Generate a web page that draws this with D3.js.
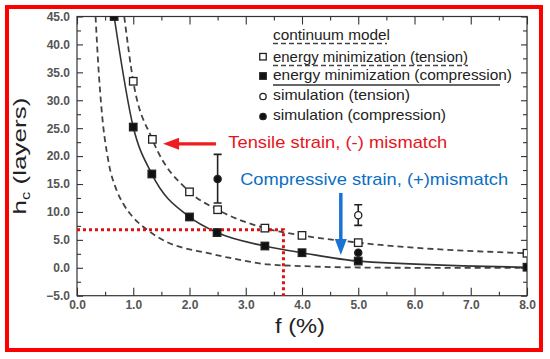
<!DOCTYPE html>
<html>
<head>
<meta charset="utf-8">
<script src="https://cdn.jsdelivr.net/npm/d3@7"></script>
<style>
  body { margin: 0; background: #fff; }
  text { font-family: "Liberation Sans", Arial, sans-serif; }
</style>
</head>
<body>
<script>
// valori (f in %, h in layers)
const continuumF = [0.33, 0.38, 0.44, 0.56, 0.7, 0.82, 1.0, 1.25, 1.6, 2.0, 2.2, 2.7, 3.4, 4.0, 5.0, 6.0, 8.0];
const continuumH = [45, 36, 28, 19, 14, 11.5, 9.0, 6.8, 4.6, 3.3, 2.9, 1.8, 0.6, 0.3, 0.05, 0, 0];

const tensionF = [0.84, 1.0, 1.34, 2.0, 2.5, 3.34, 4.0, 5.0, 8.0];
const tensionH = [45, 33.4, 23.0, 13.6, 10.4, 7.1, 5.8, 4.5, 2.6];

const compressionF = [0.66, 1.0, 1.33, 2.0, 2.49, 3.34, 4.0, 5.0, 8.0];
const compressionH = [45, 25.2, 16.8, 9.1, 6.3, 3.9, 2.7, 1.2, 0.1];

const simTensionF = [5.0];
const simTensionH = [9.4];
const simTensionLo = [7.6];
const simTensionHi = [11.3];

const simCompF = [2.5, 5.0];
const simCompH = [15.9, 2.7];
const simCompLo = [11.6, null];
const simCompHi = [20.3, null];

const legendLabels = ["continuum model", "energy minimization (tension)", "energy minimization (compression)",
  "simulation (tension)", "simulation (compression)"];

const xTicks = [0, 1, 2, 3, 4, 5, 6, 7, 8];
const yTicks = [-5, 0, 5, 10, 15, 20, 25, 30, 35, 40, 45];

// linee rosse tratteggiate
const guideH = 6.8;
const guideF = 3.67;

const W = 550, H = 359;

var svg = d3.select("body")
  .append("svg")
  .attr("width", W)
  .attr("height", H);

svg.append("rect")
  .attr("x", 0).attr("y", 0).attr("width", W).attr("height", H)
  .attr("fill", "#fff");

// bordo rosso
svg.append("rect")
  .attr("x", 7).attr("y", 7).attr("width", 534).attr("height", 343)
  .attr("fill", "none")
  .attr("stroke", "#ff0000")
  .attr("stroke-width", 4);

const pLeft = 77, pRight = 527, pTop = 16.5, pBottom = 295.7;

const x = d3.scaleLinear().domain([0, 8]).range([pLeft, pRight]);
const y = d3.scaleLinear().domain([-5, 45]).range([pBottom, pTop]);

svg.append("clipPath").attr("id", "plotclip")
  .append("rect")
  .attr("x", pLeft).attr("y", pTop)
  .attr("width", pRight - pLeft).attr("height", pBottom - pTop);

// assi
function styleAxis(g) {
  g.select(".domain").remove();
  g.selectAll("line").attr("stroke", "#333").attr("stroke-width", 1.1);
  g.selectAll("text")
    .attr("fill", "#555")
    .attr("font-weight", "bold")
    .attr("font-size", 12);
}

svg.append("g")
  .attr("transform", "translate(0," + pBottom + ")")
  .call(d3.axisBottom(x).tickValues(xTicks).tickSize(-8).tickPadding(5).tickFormat(d3.format(".1f")))
  .call(styleAxis);

svg.append("g")
  .attr("transform", "translate(0," + pBottom + ")")
  .call(d3.axisBottom(x).tickValues(d3.range(0.5, 8, 1)).tickSize(-4).tickFormat(""))
  .call(styleAxis);

svg.append("g")
  .attr("transform", "translate(0," + pTop + ")")
  .call(d3.axisTop(x).tickValues(xTicks).tickSize(-8).tickFormat(""))
  .call(styleAxis);

svg.append("g")
  .attr("transform", "translate(0," + pTop + ")")
  .call(d3.axisTop(x).tickValues(d3.range(0.5, 8, 1)).tickSize(-4).tickFormat(""))
  .call(styleAxis);

svg.append("g")
  .attr("transform", "translate(" + pLeft + ",0)")
  .call(d3.axisLeft(y).tickValues(yTicks).tickSize(-6).tickPadding(7).tickFormat(d3.format(".1f")))
  .call(styleAxis);

svg.append("g")
  .attr("transform", "translate(" + pLeft + ",0)")
  .call(d3.axisLeft(y).tickValues(d3.range(-2.5, 45, 5)).tickSize(-4).tickFormat(""))
  .call(styleAxis);

svg.append("g")
  .attr("transform", "translate(" + pRight + ",0)")
  .call(d3.axisRight(y).tickValues(yTicks).tickSize(-6).tickFormat(""))
  .call(styleAxis);

svg.append("g")
  .attr("transform", "translate(" + pRight + ",0)")
  .call(d3.axisRight(y).tickValues(d3.range(-2.5, 45, 5)).tickSize(-4).tickFormat(""))
  .call(styleAxis);

svg.append("rect")
  .attr("x", pLeft).attr("y", pTop)
  .attr("width", pRight - pLeft).attr("height", pBottom - pTop)
  .attr("fill", "none")
  .attr("stroke", "#333")
  .attr("stroke-width", 1.2);

// curve
var plot = svg.append("g").attr("clip-path", "url(#plotclip)");

function zip(fs, hs) {
  return fs.map((f, i) => [f, hs[i]]);
}

var line = d3.line()
  .x(d => x(d[0]))
  .y(d => y(d[1]))
  .curve(d3.curveMonotoneX);

plot.append("path")
  .attr("d", line(zip(continuumF, continuumH)))
  .attr("fill", "none").attr("stroke", "#444")
  .attr("stroke-width", 1.8).attr("stroke-dasharray", "6,4");

plot.append("path")
  .attr("d", line(zip(tensionF, tensionH)))
  .attr("fill", "none").attr("stroke", "#444")
  .attr("stroke-width", 1.8).attr("stroke-dasharray", "6,4");

plot.append("path")
  .attr("d", line(zip(compressionF, compressionH)))
  .attr("fill", "none").attr("stroke", "#333")
  .attr("stroke-width", 1.6);

// linee guida rosse
plot.append("path")
  .attr("d", "M" + x(0) + "," + y(guideH) + "H" + x(guideF) + "V" + y(-5))
  .attr("fill", "none").attr("stroke", "#e01010")
  .attr("stroke-width", 3).attr("stroke-dasharray", "3,3");

// barre di errore
function errorBar(f, lo, hi) {
  let g = plot.append("g").attr("stroke", "#222").attr("stroke-width", 1.6);
  g.append("line").attr("x1", x(f)).attr("x2", x(f)).attr("y1", y(lo)).attr("y2", y(hi));
  g.append("line").attr("x1", x(f) - 4).attr("x2", x(f) + 4).attr("y1", y(lo)).attr("y2", y(lo));
  g.append("line").attr("x1", x(f) - 4).attr("x2", x(f) + 4).attr("y1", y(hi)).attr("y2", y(hi));
}

simCompF.forEach((f, i) => { if (simCompLo[i] != null) errorBar(f, simCompLo[i], simCompHi[i]); });
simTensionF.forEach((f, i) => errorBar(f, simTensionLo[i], simTensionHi[i]));

// marker
function square(g, cx, cy, s, filled) {
  return g.append("rect")
    .attr("x", cx - s / 2).attr("y", cy - s / 2)
    .attr("width", s).attr("height", s)
    .attr("fill", filled ? "#111" : "#fff")
    .attr("stroke", "#222").attr("stroke-width", 1.3);
}

function circle(g, cx, cy, r, filled) {
  return g.append("circle")
    .attr("cx", cx).attr("cy", cy).attr("r", r)
    .attr("fill", filled ? "#111" : "#fff")
    .attr("stroke", "#222").attr("stroke-width", 1.3);
}

tensionF.forEach((f, i) => { if (i > 0) square(plot, x(f), y(tensionH[i]), 7.5, false); });
compressionF.forEach((f, i) => square(plot, x(f), y(compressionH[i]), 7.5, true));
simTensionF.forEach((f, i) => circle(plot, x(f), y(simTensionH[i]), 3.6, false));
simCompF.forEach((f, i) => circle(plot, x(f), y(simCompH[i]), 3.6, true));

// legenda
const legX = 273, legMarkX = 263;
const legBase = [40, 62, 80, 100, 120];
const legWidth = [117, 195, 239, 137, 173];

legendLabels.forEach((t, i) => {
  svg.append("text")
    .attr("x", legX).attr("y", legBase[i])
    .attr("font-size", 14.5)
    .attr("fill", "#222")
    .attr("textLength", legWidth[i])
    .attr("lengthAdjust", "spacingAndGlyphs")
    .text(t);
});

svg.append("line").attr("x1", legX).attr("x2", 387).attr("y1", 43.5).attr("y2", 43.5)
  .attr("stroke", "#444").attr("stroke-width", 1.5).attr("stroke-dasharray", "5,3");
svg.append("line").attr("x1", legX).attr("x2", 468).attr("y1", 65.5).attr("y2", 65.5)
  .attr("stroke", "#444").attr("stroke-width", 1.5).attr("stroke-dasharray", "5,3");
svg.append("line").attr("x1", legX).attr("x2", 500).attr("y1", 85).attr("y2", 85)
  .attr("stroke", "#333").attr("stroke-width", 1.3);

square(svg, legMarkX, 56.7, 6.5, false);
square(svg, legMarkX, 76, 6.5, true);
circle(svg, legMarkX, 96.5, 3.2, false);
circle(svg, legMarkX, 116.5, 3.2, true);

// annotazioni
const redArrowF = [2.47, 1.53], redArrowH = 22.2;
const blueArrowF = 4.69, blueArrowH = [13.4, 2.3];

svg.append("line")
  .attr("x1", x(redArrowF[0])).attr("x2", x(redArrowF[1]) + 14)
  .attr("y1", y(redArrowH)).attr("y2", y(redArrowH))
  .attr("stroke", "#ee1c1c").attr("stroke-width", 3.2);
svg.append("path")
  .attr("d", "M" + x(redArrowF[1]) + "," + y(redArrowH) +
    " l 16,-6 l 0,12 Z")
  .attr("fill", "#ee1c1c");

svg.append("line")
  .attr("x1", x(blueArrowF)).attr("x2", x(blueArrowF))
  .attr("y1", y(blueArrowH[0])).attr("y2", y(blueArrowH[1]) - 14)
  .attr("stroke", "#1a73d0").attr("stroke-width", 3.5);
svg.append("path")
  .attr("d", "M" + x(blueArrowF) + "," + y(blueArrowH[1]) +
    " l -6,-16 l 12,0 Z")
  .attr("fill", "#1a73d0");

svg.append("text")
  .attr("x", x(2.69)).attr("y", y(21.4))
  .attr("font-size", 17)
  .attr("fill", "#e8141c")
  .attr("textLength", 219)
  .attr("lengthAdjust", "spacingAndGlyphs")
  .text("Tensile strain, (-) mismatch");

svg.append("text")
  .attr("x", x(2.9)).attr("y", y(14.85))
  .attr("font-size", 17)
  .attr("fill", "#0a6fc2")
  .attr("textLength", 268)
  .attr("lengthAdjust", "spacingAndGlyphs")
  .text("Compressive  strain, (+)mismatch");

// etichette assi
svg.append("text")
  .attr("x", 300).attr("y", 333)
  .attr("text-anchor", "middle")
  .attr("font-size", 20)
  .attr("fill", "#222")
  .attr("textLength", 50)
  .attr("lengthAdjust", "spacingAndGlyphs")
  .text("f (%)");

var ylab = svg.append("text")
  .attr("transform", "translate(26,156) rotate(-90)")
  .attr("text-anchor", "middle")
  .attr("font-size", 19)
  .attr("fill", "#222")
  .attr("textLength", 117)
  .attr("lengthAdjust", "spacingAndGlyphs");
ylab.append("tspan").text("h");
ylab.append("tspan").attr("font-size", 12).attr("dy", 4).text("c");
ylab.append("tspan").attr("dy", -4).text(" (layers)");
</script>
</body>
</html>
